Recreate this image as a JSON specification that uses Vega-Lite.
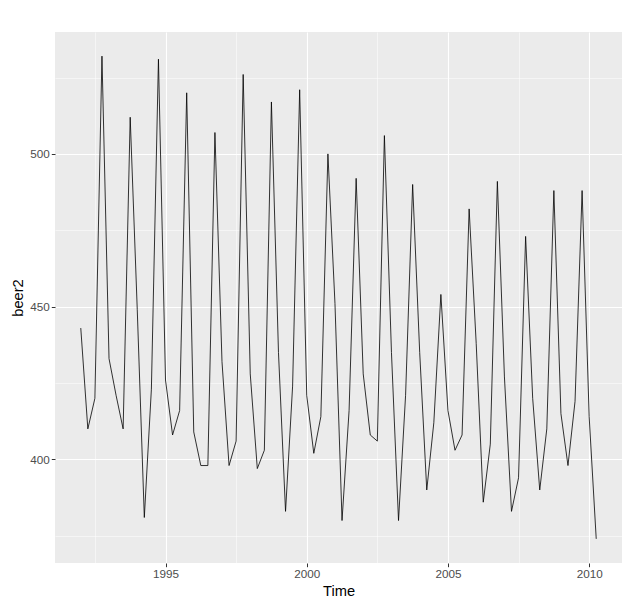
{
  "$schema": "https://vega.github.io/schema/vega-lite/v6.json",
  "width": 567,
  "height": 531,
  "autosize": {"type": "none"},
  "padding": {"left": 55, "top": 32, "right": 8, "bottom": 44},
  "background": "white",
  "config": {
    "view": {"fill": "#EBEBEB", "stroke": null},
    "axis": {
      "domain": false,
      "gridColor": "white",
      "labelColor": "#4D4D4D",
      "labelFontSize": 11.7,
      "labelFont": "Liberation Sans",
      "titleFont": "Liberation Sans",
      "titleFontSize": 14.7,
      "titleFontWeight": "normal",
      "titleColor": "black",
      "tickSize": 3.7,
      "labelPadding": 2
    }
  },
  "data": {
    "values": [
      {"t": 1992.00, "v": 443}, {"t": 1992.25, "v": 410}, {"t": 1992.50, "v": 420}, {"t": 1992.75, "v": 532},
      {"t": 1993.00, "v": 433}, {"t": 1993.25, "v": 421}, {"t": 1993.50, "v": 410}, {"t": 1993.75, "v": 512},
      {"t": 1994.00, "v": 449}, {"t": 1994.25, "v": 381}, {"t": 1994.50, "v": 423}, {"t": 1994.75, "v": 531},
      {"t": 1995.00, "v": 426}, {"t": 1995.25, "v": 408}, {"t": 1995.50, "v": 416}, {"t": 1995.75, "v": 520},
      {"t": 1996.00, "v": 409}, {"t": 1996.25, "v": 398}, {"t": 1996.50, "v": 398}, {"t": 1996.75, "v": 507},
      {"t": 1997.00, "v": 432}, {"t": 1997.25, "v": 398}, {"t": 1997.50, "v": 406}, {"t": 1997.75, "v": 526},
      {"t": 1998.00, "v": 428}, {"t": 1998.25, "v": 397}, {"t": 1998.50, "v": 403}, {"t": 1998.75, "v": 517},
      {"t": 1999.00, "v": 435}, {"t": 1999.25, "v": 383}, {"t": 1999.50, "v": 424}, {"t": 1999.75, "v": 521},
      {"t": 2000.00, "v": 421}, {"t": 2000.25, "v": 402}, {"t": 2000.50, "v": 414}, {"t": 2000.75, "v": 500},
      {"t": 2001.00, "v": 451}, {"t": 2001.25, "v": 380}, {"t": 2001.50, "v": 416}, {"t": 2001.75, "v": 492},
      {"t": 2002.00, "v": 428}, {"t": 2002.25, "v": 408}, {"t": 2002.50, "v": 406}, {"t": 2002.75, "v": 506},
      {"t": 2003.00, "v": 435}, {"t": 2003.25, "v": 380}, {"t": 2003.50, "v": 421}, {"t": 2003.75, "v": 490},
      {"t": 2004.00, "v": 435}, {"t": 2004.25, "v": 390}, {"t": 2004.50, "v": 412}, {"t": 2004.75, "v": 454},
      {"t": 2005.00, "v": 416}, {"t": 2005.25, "v": 403}, {"t": 2005.50, "v": 408}, {"t": 2005.75, "v": 482},
      {"t": 2006.00, "v": 438}, {"t": 2006.25, "v": 386}, {"t": 2006.50, "v": 405}, {"t": 2006.75, "v": 491},
      {"t": 2007.00, "v": 427}, {"t": 2007.25, "v": 383}, {"t": 2007.50, "v": 394}, {"t": 2007.75, "v": 473},
      {"t": 2008.00, "v": 420}, {"t": 2008.25, "v": 390}, {"t": 2008.50, "v": 410}, {"t": 2008.75, "v": 488},
      {"t": 2009.00, "v": 415}, {"t": 2009.25, "v": 398}, {"t": 2009.50, "v": 419}, {"t": 2009.75, "v": 488},
      {"t": 2010.00, "v": 414}, {"t": 2010.25, "v": 374}
    ]
  },
  "mark": {"type": "line", "color": "black", "strokeWidth": 0.8},
  "encoding": {
    "x": {
      "field": "t",
      "type": "quantitative",
      "title": "Time",
      "scale": {"domain": [1991.0875, 2011.1625], "nice": false, "zero": false},
      "axis": {
        "values": [1992.5, 1995, 1997.5, 2000, 2002.5, 2005, 2007.5, 2010],
        "format": "d",
        "labelExpr": "datum.value % 5 === 0 ? datum.label : ''",
        "gridWidth": {"condition": {"test": "datum.value % 5 === 0", "value": 1.1}, "value": 0.5},
        "tickColor": {"condition": {"test": "datum.value % 5 === 0", "value": "#333333"}, "value": "transparent"},
        "titlePadding": 3
      }
    },
    "y": {
      "field": "v",
      "type": "quantitative",
      "title": "beer2",
      "scale": {"domain": [366.1, 539.9], "nice": false, "zero": false},
      "axis": {
        "values": [375, 400, 425, 450, 475, 500, 525],
        "labelExpr": "datum.value % 50 === 0 ? datum.label : ''",
        "gridWidth": {"condition": {"test": "datum.value % 50 === 0", "value": 1.1}, "value": 0.5},
        "tickColor": {"condition": {"test": "datum.value % 50 === 0", "value": "#333333"}, "value": "transparent"},
        "titlePadding": 4
      }
    }
  }
}
